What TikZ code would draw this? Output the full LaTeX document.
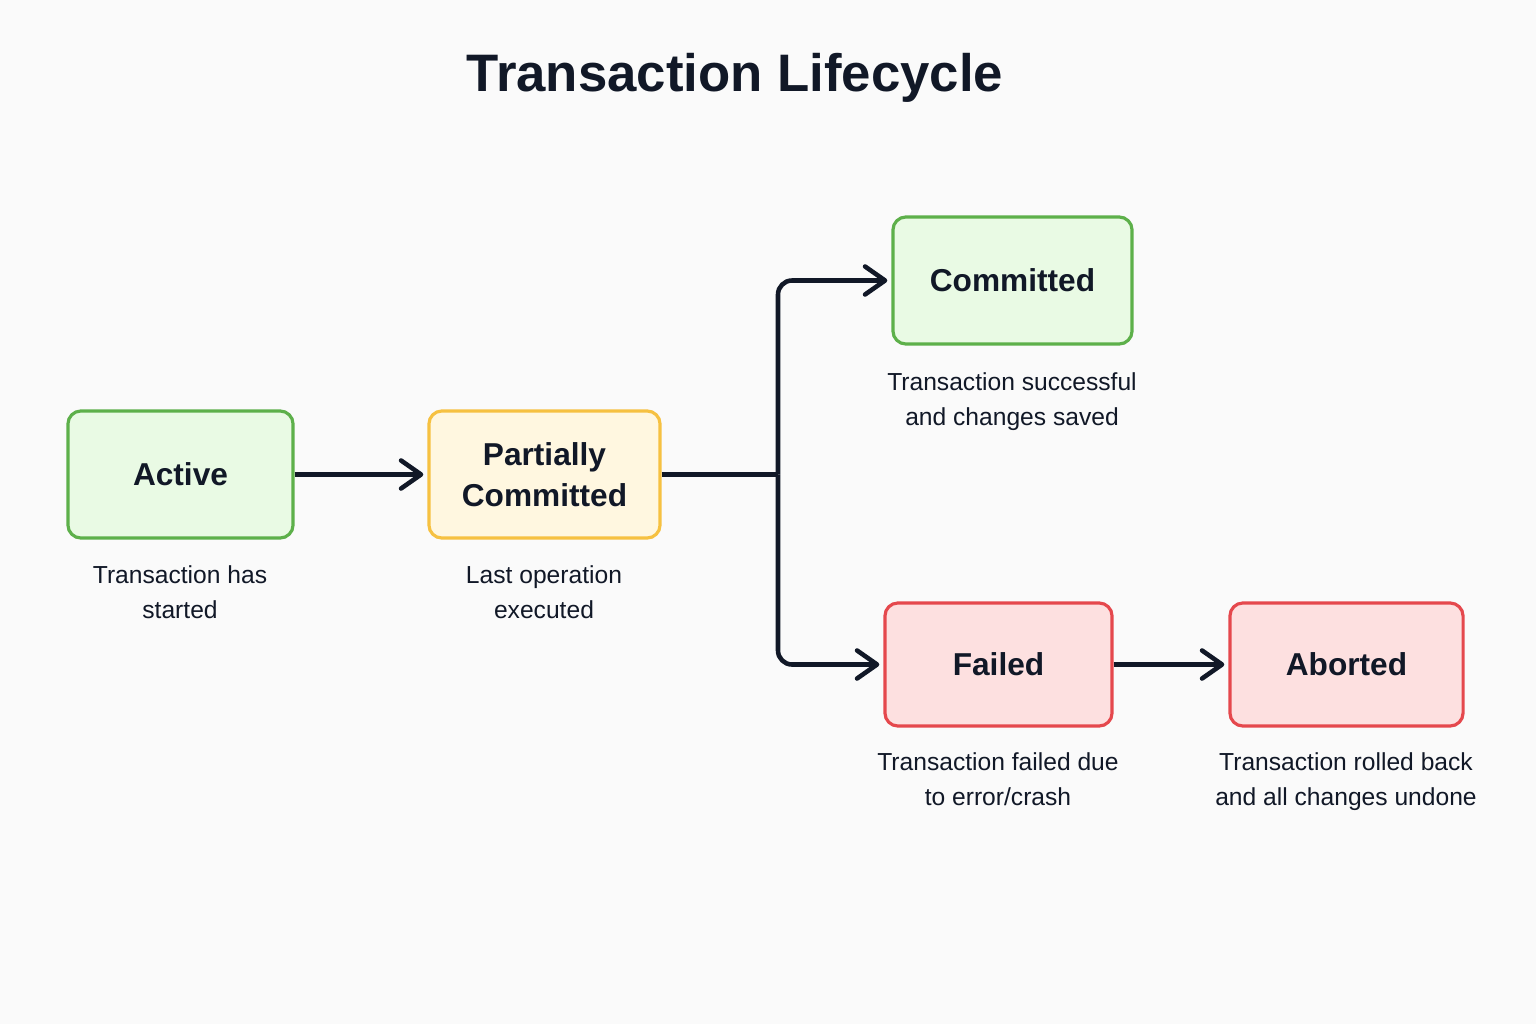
\documentclass[tikz,border=0pt]{standalone}
\usepackage{fontspec}
\setmainfont{Liberation Sans}
\usetikzlibrary{arrows.meta}
\definecolor{inkc}{HTML}{111827}
\definecolor{okline}{HTML}{5DB04A}
\definecolor{okfill}{HTML}{E9FAE4}
\definecolor{midline}{HTML}{F6C141}
\definecolor{midfill}{HTML}{FFF7E0}
\definecolor{badline}{HTML}{E5484D}
\definecolor{badfill}{HTML}{FDE0E0}
\begin{document}
\begin{tikzpicture}[x=0.01cm,y=-0.01cm,
  >={Straight Barb[length=2mm,width=2.8mm,line cap=round,line join=round]},
  state/.style={draw,rounded corners=0.13cm,line width=0.9pt,minimum height=1.27cm,
    text=inkc,align=center,font=\fontsize{9}{11.5}\selectfont\bfseries},
  okstate/.style={state,draw=okline,fill=okfill},
  midstate/.style={state,draw=midline,fill=midfill},
  badstate/.style={state,draw=badline,fill=badfill,minimum height=1.23cm},
  note/.style={text=inkc,align=center,anchor=north,font=\fontsize{7}{10}\selectfont},
  flow/.style={->,draw=inkc,line width=1.3pt,shorten >=0.04cm}]
\fill[white!98!black] (0,0) rectangle (1536,1024);
\useasboundingbox (0,0) rectangle (1536,1024);
\node[text=inkc,font=\fontsize{15}{18}\selectfont\bfseries] (title) at (735,78) {Transaction Lifecycle};
% states
\node[okstate,minimum width=2.25cm] (act) at (180.5,474.5) {Active};
\node[midstate,minimum width=2.31cm] (pc) at (544.5,474.5) {Partially\\Committed};
\node[okstate,minimum width=2.39cm] (com) at (1012.5,280.5) {Committed};
\node[badstate,minimum width=2.27cm] (fail) at (998.5,664.5) {Failed};
\node[badstate,minimum width=2.33cm] (abt) at (1346.5,664.5) {Aborted};
% descriptions
\node[note] (actnote) at (180,553) {Transaction has\\started};
\node[note] (pcnote) at (544,553) {Last operation\\executed};
\node[note] (comnote) at (1012,360) {Transaction successful\\and changes saved};
\node[note] (failnote) at (998,740) {Transaction failed due\\to error/crash};
\node[note] (abtnote) at (1346,740) {Transaction rolled back\\and all changes undone};
% arrows
\coordinate (split) at (778,474.5);
\draw[flow] (act) -- (pc);
\draw[draw=inkc,line width=1.3pt] (pc.east) -- (split);
\draw[flow,rounded corners=0.14cm] (split) |- (com.west);
\draw[flow,rounded corners=0.14cm] (split) |- (fail.west);
\draw[flow] (fail) -- (abt);
\end{tikzpicture}
\end{document}
